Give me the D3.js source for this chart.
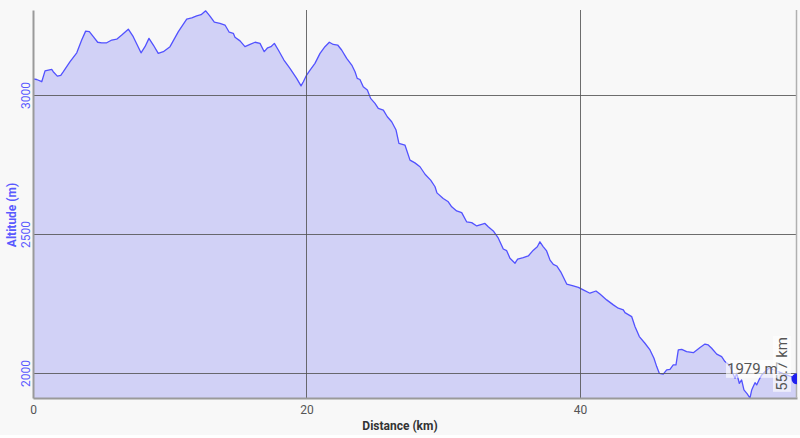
<!DOCTYPE html>
<html>
<head>
<meta charset="utf-8">
<script src="https://cdn.jsdelivr.net/npm/d3@7/dist/d3.min.js"></script>
<style>
  html, body { margin: 0; padding: 0; background: #f8f8f8; }
  svg { display: block; font-family: Roboto, "Noto Sans", sans-serif; }
</style>
</head>
<body>
<svg id="chart" width="800" height="438"></svg>
<script>
// Distance along the route (km)
const distanceKm = [0, 0.27, 0.64, 0.88, 1.12, 1.37, 1.48, 1.78, 2.03, 2.22, 2.71, 3.20, 3.56, 3.85, 4.12, 4.41, 4.73, 5.02, 5.39, 5.76, 6.12, 6.49, 6.97, 7.33, 7.90, 8.19, 8.48, 8.80, 9.16, 9.53, 10.02, 10.63, 11.24, 11.61, 11.97, 12.29, 12.63, 12.94, 13.26, 13.67, 14.04, 14.35, 14.65, 14.77, 15.14, 15.50, 15.87, 16.24, 16.60, 16.91, 17.16, 17.40, 17.65, 17.94, 18.35, 18.79, 19.28, 19.60, 19.77, 20.01, 20.26, 20.62, 20.99, 21.35, 21.67, 21.96, 22.28, 22.57, 22.94, 23.31, 23.55, 23.71, 23.91, 24.15, 24.45, 24.69, 25.01, 25.25, 25.62, 25.91, 26.23, 26.55, 26.76, 27.20, 27.57, 27.93, 28.30, 28.67, 29.08, 29.40, 29.54, 30.00, 30.37, 30.62, 30.98, 31.35, 31.71, 32.08, 32.45, 32.81, 33.05, 33.29, 33.66, 34.03, 34.39, 34.64, 34.88, 35.25, 35.44, 35.85, 36.22, 36.59, 36.88, 37.07, 37.32, 37.56, 37.81, 38.05, 38.30, 38.59, 39.03, 39.51, 39.88, 40.24, 40.73, 41.17, 41.46, 41.95, 42.44, 42.80, 43.17, 43.29, 43.78, 44.02, 44.34, 44.75, 45.12, 45.41, 45.61, 45.80, 46.09, 46.34, 46.58, 46.82, 47.02, 47.19, 47.44, 47.80, 48.29, 48.78, 49.14, 49.38, 49.63, 50.00, 50.36, 50.60, 50.92, 51.09, 51.17, 51.34, 51.46, 51.65, 51.82, 51.99, 52.23, 52.43, 52.56, 52.67, 52.80, 52.92, 53.09, 53.29, 53.82, 55.87];
// Altitude (m)
const altitudeM = [3058, 3056, 3048, 3087, 3090, 3092, 3084, 3068, 3071, 3084, 3120, 3152, 3198, 3230, 3228, 3210, 3190, 3188, 3188, 3198, 3201, 3216, 3237, 3210, 3152, 3174, 3204, 3180, 3150, 3156, 3174, 3228, 3273, 3278, 3285, 3289, 3303, 3284, 3262, 3258, 3252, 3226, 3222, 3208, 3195, 3174, 3182, 3190, 3186, 3156, 3170, 3174, 3186, 3162, 3126, 3096, 3060, 3033, 3048, 3072, 3090, 3114, 3150, 3174, 3190, 3182, 3180, 3162, 3132, 3108, 3084, 3060, 3056, 3030, 3018, 2988, 2970, 2952, 2946, 2922, 2904, 2874, 2826, 2820, 2766, 2756, 2742, 2715, 2694, 2670, 2648, 2628, 2616, 2598, 2583, 2577, 2544, 2541, 2529, 2535, 2538, 2526, 2511, 2485, 2446, 2440, 2413, 2395, 2410, 2415, 2421, 2442, 2454, 2472, 2454, 2439, 2406, 2391, 2385, 2364, 2320, 2313, 2308, 2299, 2287, 2295, 2284, 2263, 2245, 2233, 2227, 2217, 2203, 2167, 2131, 2107, 2083, 2053, 2023, 1999, 1996, 2011, 2013, 2029, 2029, 2083, 2085, 2077, 2073, 2092, 2104, 2101, 2089, 2068, 2059, 2041, 2029, 2011, 1999, 1981, 1999, 1963, 1975, 1939, 1925, 1910, 1939, 1951, 1965, 1957, 1975, 1993, 2018, 1979];
const xTicks = [0, 20, 40];
const yTicks = [2000, 2500, 3000];
const xDomain = [0, 55.87];
const yDomain = [1910, 3306];
const markerLabelDist = "55.7 km";
const markerLabelAlt = "1979 m";

const data = distanceKm.map((d, i) => ({ d, a: altitudeM[i] }));

const svg = d3.select("#chart");
const m = { left: 33, right: 3, top: 10, bottom: 40 };
const W = 800, H = 438;
const x = d3.scaleLinear().domain(xDomain).range([m.left, W - m.right]);
const y = d3.scaleLinear().domain(yDomain).range([H - m.bottom, m.top]);

svg.append("rect").attr("width", W).attr("height", H).attr("fill", "#f8f8f8");
svg.append("rect").attr("x", 0).attr("y", 435).attr("width", W).attr("height", 3).attr("fill", "#ffffff");

svg.append("defs").append("clipPath").attr("id", "plot")
  .append("rect").attr("x", m.left).attr("y", m.top)
  .attr("width", W - m.right - m.left).attr("height", H - m.bottom - m.top);

const plot = svg.append("g").attr("clip-path", "url(#plot)");

plot.append("path").datum(data)
  .attr("d", d3.area().x(p => x(p.d)).y0(y(yDomain[0])).y1(p => y(p.a)))
  .attr("fill", "#d1d1f6");
plot.append("path").datum(data)
  .attr("d", d3.line().x(p => x(p.d)).y(p => y(p.a)))
  .attr("fill", "none").attr("stroke", "#5252ff").attr("stroke-width", 1.3)
  .attr("stroke-linejoin", "round");

// grid
const grid = svg.append("g");
grid.selectAll("line.h").data(yTicks).join("line")
  .attr("x1", m.left).attr("x2", W - m.right)
  .attr("y1", d => Math.round(y(d)) + 0.5).attr("y2", d => Math.round(y(d)) + 0.5)
  .attr("stroke", "#555").attr("stroke-opacity", 0.85);
grid.selectAll("line.v").data(xTicks.filter(t => t > 0)).join("line")
  .attr("y1", m.top).attr("y2", H - m.bottom)
  .attr("x1", d => Math.round(x(d)) + 0.5).attr("x2", d => Math.round(x(d)) + 0.5)
  .attr("stroke", "#555").attr("stroke-opacity", 0.85);

// axes
const xAxis = svg.append("g").attr("transform", `translate(0,${H - m.bottom})`)
  .call(d3.axisBottom(x).tickValues(xTicks).tickSize(0).tickPadding(7).tickFormat(d3.format("d")));
xAxis.select(".domain").attr("stroke", "#9a9a9a").attr("stroke-width", 2);
xAxis.selectAll("text").attr("fill", "#555").style("font-size", "12px").style("font-family", "Roboto");

const yAxis = svg.append("g").attr("transform", `translate(${m.left},0)`)
  .call(d3.axisLeft(y).tickValues(yTicks).tickSize(0).tickFormat(d3.format("d")));
yAxis.select(".domain").attr("stroke", "#9a9a9a").attr("stroke-width", 2);
yAxis.selectAll("text")
  .attr("fill", "#5a5aff").style("font-size", "12px").style("font-family", "Roboto")
  .attr("transform", "translate(-3.5,0) rotate(-90)")
  .attr("x", 0).attr("y", 0).attr("dy", "0").attr("text-anchor", "middle");

svg.append("line").attr("x1", W - m.right - 0.5).attr("x2", W - m.right - 0.5)
  .attr("y1", m.top).attr("y2", H - m.bottom).attr("stroke", "#b0b0b0").attr("stroke-width", 1.5);

svg.append("text").attr("x", 400).attr("y", 430).attr("text-anchor", "middle")
  .style("font-size", "12px").style("font-weight", "bold").attr("fill", "#333")
  .text("Distance (km)");
svg.append("text").attr("transform", "translate(16,215) rotate(-90)").attr("text-anchor", "middle")
  .style("font-size", "12px").style("font-weight", "bold").attr("fill", "#5a5aff")
  .text("Altitude (m)");

// marker at the last point
const last = data[data.length - 1];
const mx = x(last.d), my = y(last.a);

const vText = svg.append("g").attr("transform", `translate(${mx - 10},${my + 12}) rotate(-90)`);
const vt = vText.append("text").attr("x", 0).attr("y", 0)
  .style("font-size", "15px").attr("fill", "#555").text(markerLabelDist);
const vb = vt.node().getBBox();
vText.insert("rect", "text").attr("x", vb.x - 1).attr("y", vb.y).attr("width", vb.width + 2).attr("height", vb.height)
  .attr("fill", "#fff").attr("fill-opacity", 0.6);

const hText = svg.append("g");
const ht = hText.append("text").attr("x", 727).attr("y", my - 5)
  .style("font-size", "15px").attr("fill", "#555").text(markerLabelAlt);
const hb = ht.node().getBBox();
hText.insert("rect", "text").attr("x", hb.x - 1).attr("y", hb.y).attr("width", hb.width + 2).attr("height", hb.height)
  .attr("fill", "#fff").attr("fill-opacity", 0.6);

svg.append("g").attr("clip-path", "url(#plot)")
  .append("circle").attr("cx", mx).attr("cy", my).attr("r", 5.5).attr("fill", "#2020ee");
</script>
</body>
</html>
